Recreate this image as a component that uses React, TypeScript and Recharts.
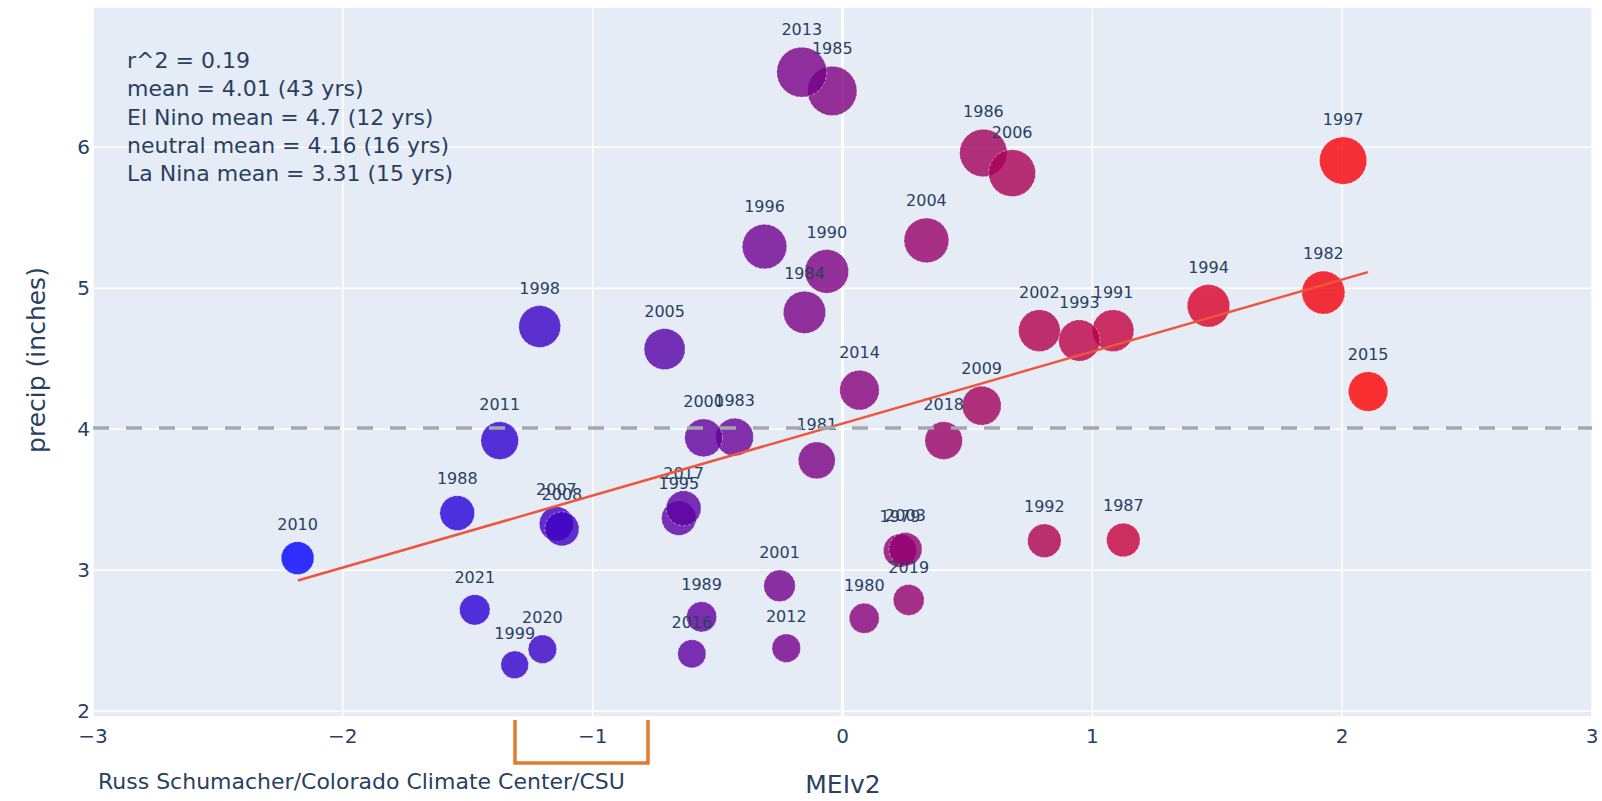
import React from "react";
import { CartesianGrid, ReferenceLine, Scatter, ScatterChart, XAxis, YAxis, ZAxis } from "recharts";

// Spring precip vs. MEIv2, one bubble per year (1979-2021)
const years = [
  1979, 1980, 1981, 1982, 1983, 1984, 1985, 1986, 1987, 1988, 1989, 1990, 1991, 1992, 1993,
  1994, 1995, 1996, 1997, 1998, 1999, 2000, 2001, 2002, 2003, 2004, 2005, 2006, 2007, 2008,
  2009, 2010, 2011, 2012, 2013, 2014, 2015, 2016, 2017, 2018, 2019, 2020, 2021,
];
const meiValues = [
  0.23, 0.087, -0.103, 1.925, -0.432, -0.152, -0.041, 0.564, 1.124, -1.542, -0.564, -0.063, 1.083,
  0.808, 0.948, 1.465, -0.655, -0.312, 2.004, -1.212, -1.312, -0.556, -0.252, 0.788, 0.252, 0.336,
  -0.712, 0.679, -1.145, -1.123, 0.557, -2.181, -1.372, -0.225, -0.163, 0.068, 2.104, -0.603,
  -0.636, 0.405, 0.265, -1.201, -1.472,
];
const precipValues = [
  3.14, 2.66, 3.78, 4.97, 3.945, 4.83, 6.4, 5.96, 3.215, 3.406, 2.67, 5.12, 4.7, 3.21, 4.63, 4.876,
  3.37, 5.296, 5.906, 4.729, 2.33, 3.94, 2.89, 4.7, 3.15, 5.34, 4.569, 5.817, 3.33, 3.294, 4.168,
  3.087, 3.92, 2.448, 6.533, 4.278, 4.268, 2.408, 3.44, 3.92, 2.79, 2.441, 2.72,
];

// least-squares fit endpoints
const trendMei = [-2.18, 2.103];
const trendPrecip = [2.928, 5.115];

const meanPrecip = 4.01;

const xTicks = [-3, -2, -1, 0, 1, 2, 3];
const yTicks = [2, 3, 4, 5, 6];

const statLines = [
  "r^2 = 0.19",
  "mean = 4.01 (43 yrs)",
  "El Nino mean = 4.7 (12 yrs)",
  "neutral mean = 4.16 (16 yrs)",
  "La Nina mean = 3.31 (15 yrs)",
];

const points = years.map((year, i) => ({ year, mei: meiValues[i], precip: precipValues[i] }));
const trendSegment = trendMei.map((x, i) => ({ x, y: trendPrecip[i] }));

const MEI_MIN = Math.min(...meiValues);
const MEI_MAX = Math.max(...meiValues);
const FONT = "'DejaVu Sans', Verdana, sans-serif";
const TEXT = "#2a3f5f";

// plotly "Bluered" colour scale
function blueRed(mei: number) {
  const t = (mei - MEI_MIN) / (MEI_MAX - MEI_MIN);
  return `rgb(${Math.round(255 * t)},0,${Math.round(255 * (1 - t))})`;
}

function radiusOf(props: any) {
  if (props.width) return props.width / 2;
  return Math.sqrt((props.size ?? 64) / Math.PI);
}

function Bubble(props: any) {
  const { cx, cy, payload } = props;
  return (
    <circle
      cx={cx}
      cy={cy}
      r={radiusOf(props)}
      fill={blueRed(payload.mei)}
      fillOpacity={0.8}
      stroke="#ffffff"
      strokeOpacity={0.45}
      strokeWidth={1}
      strokeDasharray="3 2"
    />
  );
}

function YearLabel(props: any) {
  const { cx, cy, payload } = props;
  return (
    <text
      x={cx}
      y={cy - radiusOf(props) - 12}
      textAnchor="middle"
      fontSize={16}
      fontFamily={FONT}
      fill={TEXT}
    >
      {payload.year}
    </text>
  );
}

const fmtTick = (v: number) => (v < 0 ? `\u2212${Math.abs(v)}` : `${v}`);

export default function App() {
  return (
    <div style={{ position: "absolute", left: 0, top: 0, width: 1602, height: 801, background: "#fff" }}>
      <ScatterChart width={1602} height={801} margin={{ top: 7, right: 10, bottom: 0, left: 0 }}>
        <CartesianGrid fill="#E5ECF6" stroke="#ffffff" strokeWidth={1.5} />
        <XAxis
          type="number"
          dataKey="mei"
          domain={[-3, 3]}
          ticks={xTicks}
          height={84}
          axisLine={false}
          tickLine={false}
          tickSize={0}
          tickMargin={12}
          tickFormatter={fmtTick}
          tick={{ fontSize: 20, fill: TEXT, fontFamily: FONT }}
          allowDataOverflow
        />
        <YAxis
          type="number"
          dataKey="precip"
          domain={[1.96, 6.995]}
          ticks={yTicks}
          width={93}
          axisLine={false}
          tickLine={false}
          tickSize={0}
          tickMargin={3}
          tick={{ fontSize: 20, fill: TEXT, fontFamily: FONT }}
          allowDataOverflow
        />
        <ZAxis type="number" dataKey="precip" domain={[2, 7]} range={[491, 2109]} />
        <ReferenceLine x={0} stroke="#ffffff" strokeWidth={2.5} zIndex={-50} />
        <Scatter data={points} shape={Bubble} isAnimationActive={false} zIndex={600} />
        <Scatter data={points} shape={YearLabel} isAnimationActive={false} zIndex={610} />
        <ReferenceLine segment={trendSegment} stroke="#EF553B" strokeWidth={2.5} zIndex={700} />
        <ReferenceLine
          y={meanPrecip}
          stroke="#a4a7ad"
          strokeWidth={3.5}
          strokeDasharray="16 17"
          zIndex={710}
        />
      </ScatterChart>
      <svg
        width={1602}
        height={801}
        style={{ position: "absolute", left: 0, top: 0, pointerEvents: "none" }}
        fontFamily={FONT}
      >
        {statLines.map((line, i) => (
          <text key={line} x={127} y={68 + i * 28.3} fontSize={22} fill={TEXT}>
            {line}
          </text>
        ))}
        <text x={98} y={789} fontSize={22} fill={TEXT}>
          Russ Schumacher/Colorado Climate Center/CSU
        </text>
        <text x={843} y={793} fontSize={25} fill={TEXT} textAnchor="middle">
          MEIv2
        </text>
        <text
          x={36}
          y={360}
          fontSize={25}
          fill={TEXT}
          textAnchor="middle"
          dominantBaseline="central"
          transform="rotate(-90 36 360)"
        >
          precip (inches)
        </text>
        <path d="M515 720 V763 H648 V720" fill="none" stroke="#E07B30" strokeWidth={3.5} />
      </svg>
    </div>
  );
}
